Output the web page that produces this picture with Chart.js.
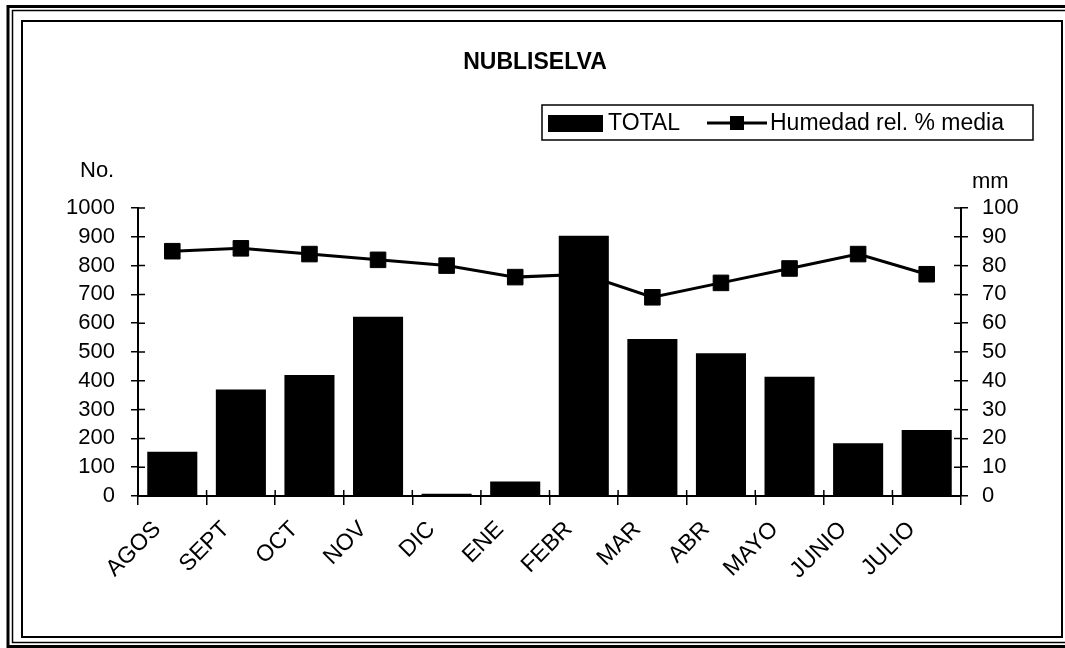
<!DOCTYPE html>
<html>
<head>
<meta charset="utf-8">
<script src="https://cdn.jsdelivr.net/npm/chart.js@4"></script>
<style>
    body { margin: 0; background: #fff; }
    #chart { display: block; }
</style>
</head>
<body>
<canvas id="chart" width="1065" height="648"></canvas>
<script>
// Daten
const months = ['AGOS', 'SEPT', 'OCT', 'NOV', 'DIC', 'ENE', 'FEBR', 'MAR', 'ABR', 'MAYO', 'JUNIO', 'JULIO'];
const totals = [154, 370, 420, 622, 8, 50, 904, 545, 496, 414, 183, 229];
const humidity = [85, 86, 84, 82, 80, 76, 77, 69, 74, 79, 84, 77];
const leftTicks = [0, 100, 200, 300, 400, 500, 600, 700, 800, 900, 1000];
const rightTicks = [0, 10, 20, 30, 40, 50, 60, 70, 80, 90, 100];

const chartTitle = 'NUBLISELVA';
const seriesNames = ['TOTAL', 'Humedad rel. % media'];
const leftUnit = 'No.';
const rightUnit = 'mm';

const FONT = "'Liberation Sans', Arial, sans-serif";

// Rahmen, Titel, Legende und Einheiten
const decorPlugin = {
    id: 'decor',
    beforeDraw(chart) {
        const ctx = chart.ctx;
        ctx.save();
        ctx.fillStyle = '#fff';
        ctx.fillRect(0, 0, chart.width, chart.height);
        ctx.strokeStyle = '#000';
        // doppelter Aussenrahmen
        ctx.lineWidth = 3;
        ctx.strokeRect(8, 6.5, 1060, 640);
        ctx.lineWidth = 1.5;
        ctx.strokeRect(12.5, 10.5, 1060, 632);
        // innerer Rahmen
        ctx.lineWidth = 2;
        ctx.strokeRect(22, 21, 1040, 616);
        ctx.restore();
    },
    afterDraw(chart) {
        const ctx = chart.ctx;
        const area = chart.chartArea;
        ctx.save();
        ctx.fillStyle = '#000';
        ctx.strokeStyle = '#000';

        // Titel
        ctx.font = `bold 23px ${FONT}`;
        ctx.textAlign = 'center';
        ctx.textBaseline = 'middle';
        ctx.fillText(chartTitle, 535, 63);

        // Legende
        ctx.lineWidth = 1.5;
        ctx.strokeRect(542, 105, 491, 35);
        ctx.fillRect(548, 115, 55, 17);
        ctx.font = `23px ${FONT}`;
        ctx.textAlign = 'left';
        ctx.fillText(seriesNames[0], 608, 124);
        ctx.lineWidth = 3;
        ctx.beginPath();
        ctx.moveTo(707, 123);
        ctx.lineTo(767, 123);
        ctx.stroke();
        ctx.fillRect(730, 116, 14, 14);
        ctx.fillText(seriesNames[1], 770, 124);

        // Einheiten
        ctx.font = `22px ${FONT}`;
        ctx.textBaseline = 'alphabetic';
        ctx.fillText(leftUnit, 80, 177);
        ctx.fillText(rightUnit, 972, 188);

        // Striche nach innen (Kreuzmarken)
        ctx.lineWidth = 1.5;
        const yL = chart.scales.y;
        const yR = chart.scales.y1;
        const x = chart.scales.x;
        ctx.beginPath();
        leftTicks.forEach(v => {
            const py = yL.getPixelForValue(v);
            ctx.moveTo(area.left, py);
            ctx.lineTo(area.left + 7, py);
        });
        rightTicks.forEach(v => {
            const py = yR.getPixelForValue(v);
            ctx.moveTo(area.right - 7, py);
            ctx.lineTo(area.right, py);
        });
        const step = x.width / months.length;
        for (let i = 0; i <= months.length; i++) {
            const px = x.left + i * step;
            ctx.moveTo(px, area.bottom);
            ctx.lineTo(px, area.bottom - 6);
        }
        ctx.stroke();
        ctx.restore();
    }
};

function yAxis(position, min, max, tickList, width, pad) {
    return {
        position: position,
        min: min,
        max: max,
        afterBuildTicks(scale) { scale.ticks = tickList.map(v => ({ value: v })); },
        grid: {
            display: true,
            drawOnChartArea: false,
            drawTicks: true,
            tickLength: 7,
            color: '#000',
            lineWidth: 1.5
        },
        border: { display: true, color: '#000', width: 2 },
        ticks: {
            color: '#000',
            autoSkip: false,
            font: { family: FONT, size: 22 },
            padding: pad,
            callback: v => String(v)
        },
        afterFit(scale) { scale.width = width; }
    };
}

new Chart(document.getElementById('chart'), {
    type: 'bar',
    data: {
        labels: months,
        datasets: [
            {
                type: 'bar',
                label: seriesNames[0],
                data: totals,
                backgroundColor: '#000',
                borderWidth: 0,
                barPercentage: 0.73,
                categoryPercentage: 1,
                yAxisID: 'y',
                order: 0
            },
            {
                type: 'line',
                label: seriesNames[1],
                data: humidity,
                borderColor: '#000',
                borderWidth: 3,
                backgroundColor: '#000',
                pointStyle: 'rect',
                pointRadius: 11,
                pointBackgroundColor: '#000',
                pointBorderColor: '#000',
                pointBorderWidth: 1,
                tension: 0,
                fill: false,
                yAxisID: 'y1',
                order: 1
            }
        ]
    },
    options: {
        responsive: false,
        animation: false,
        devicePixelRatio: 1,
        layout: {
            padding: { top: 208, left: 0, right: 0, bottom: 0 }
        },
        plugins: {
            legend: { display: false },
            title: { display: false },
            tooltip: { enabled: false }
        },
        scales: {
            x: {
                grid: {
                    display: true,
                    drawOnChartArea: false,
                    drawTicks: true,
                    tickLength: 9,
                    color: '#000',
                    lineWidth: 1.5,
                    offset: true
                },
                border: { display: true, color: '#000', width: 2 },
                ticks: {
                    color: '#000',
                    autoSkip: false,
                    font: { family: FONT, size: 23 },
                    minRotation: 45,
                    maxRotation: 45,
                    padding: 11,
                    labelOffset: -15
                },
                afterFit(scale) { scale.height = 152; }
            },
            y: yAxis('left', 0, 1000, leftTicks, 138, 16),
            y1: yAxis('right', 0, 100, rightTicks, 104, 14)
        }
    },
    plugins: [decorPlugin]
});
</script>
</body>
</html>
